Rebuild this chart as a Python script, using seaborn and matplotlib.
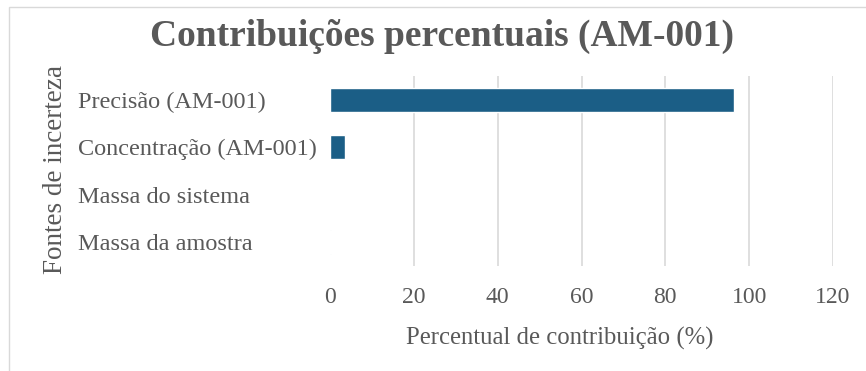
import matplotlib
matplotlib.use("Agg")
import matplotlib.pyplot as plt
import seaborn as sns
import pandas as pd
from matplotlib.patches import Rectangle

categories = ["Precisão (AM-001)", "Concentração (AM-001)", "Massa do sistema", "Massa da amostra"]
values = [96.5, 3.6, 0.0, 0.15]
xticks = [0, 20, 40, 60, 80, 100, 120]

title = "Contribuições percentuais (AM-001)"
xlabel = "Percentual de contribuição (%)"
ylabel = "Fontes de incerteza"

sns.set_theme(style="white")
plt.rcParams["font.family"] = ["Liberation Serif", "DejaVu Serif"]

W, H = 866, 371
fig = plt.figure(figsize=(W / 100, H / 100), dpi=100)
ax = fig.add_axes([330 / W, 1 - 266 / H, (833 - 330) / W, (266 - 76) / H])

df = pd.DataFrame({"cat": categories, "val": values})
sns.barplot(data=df, x="val", y="cat", orient="h", color="#1b5e86",
            width=0.5, saturation=1, ax=ax)

text_col = "#595959"
ax.set_xlim(0, 120)
ax.set_xticks(xticks)
ax.set_xticklabels([str(t) for t in xticks])
ax.grid(axis="x", color="#d9d9d9", linewidth=1.2)
ax.grid(axis="y", visible=False)
ax.set_axisbelow(True)
gl = ax.xaxis.get_gridlines()
gl[0].set_visible(False)
for s in ax.spines.values():
    s.set_visible(False)

ax.tick_params(axis="x", length=0, pad=15, labelsize=17, labelcolor=text_col)
ax.tick_params(axis="y", length=0, pad=252 * 0.72, labelsize=17.5, labelcolor=text_col)
for lbl in ax.get_yticklabels():
    lbl.set_horizontalalignment("left")

ax.set_xlabel(xlabel, fontsize=17.8, color=text_col)
ax.xaxis.set_label_coords((560 - 330) / 503, (266 - 338) / 190)
ax.xaxis.label.set_va("center")
ax.set_ylabel(ylabel, fontsize=19.5, color=text_col)
ax.yaxis.set_label_coords((55 - 330) / 503, (266 - 170) / 190)
ax.yaxis.label.set_va("center")

fig.text(442 / W, 1 - 36 / H, title, ha="center", va="center",
         fontsize=27, fontweight="bold", color=text_col)

fig.patches.append(Rectangle((9 / W, -0.01), 1.0, 1 - 7 / H + 0.01,
                             transform=fig.transFigure, fill=False,
                             edgecolor="#d9d9d9", linewidth=1))

fig.savefig("out.png", dpi=100)
